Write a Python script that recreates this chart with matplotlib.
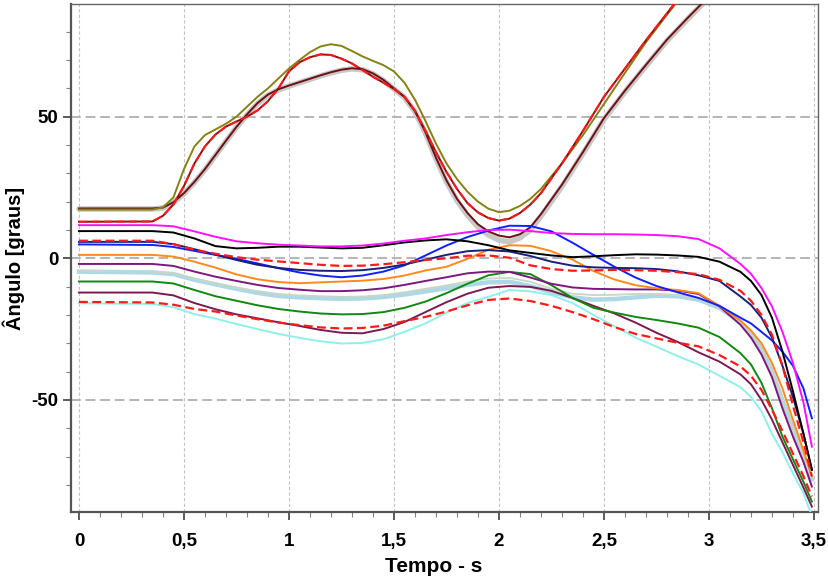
import matplotlib
matplotlib.use("Agg")
import matplotlib.pyplot as plt
from matplotlib.ticker import MultipleLocator, FuncFormatter
from matplotlib import font_manager

# ---- data -------------------------------------------------------------
t_low = [0.00, 0.35, 0.45, 0.55, 0.65, 0.75, 0.85, 0.95, 1.05, 1.15, 1.25, 1.35,
         1.45, 1.55, 1.65, 1.75, 1.85, 1.95, 2.05, 2.15, 2.25, 2.35, 2.45, 2.55,
         2.65, 2.75, 2.85, 2.95, 3.05, 3.15, 3.20, 3.25, 3.30, 3.35, 3.40, 3.45, 3.49]

magenta = [11.7, 11.7, 11.3, 9.5, 7.6, 6.0, 5.3, 4.8, 4.5, 4.2, 4.2, 4.5,
           5.2, 6.2, 7.0, 8.2, 9.2, 10.0, 10.1, 9.6, 8.9, 8.6, 8.5, 8.5,
           8.4, 8.2, 7.8, 6.8, 3.5, -2.0, -5.5, -10.5, -17.0, -26.0, -37.0, -51.0, -66.5]
black = [9.6, 9.6, 9.1, 7.0, 4.3, 3.5, 3.7, 4.1, 4.1, 3.8, 3.5, 3.7,
         4.6, 5.6, 6.3, 6.7, 6.0, 4.6, 2.8, 1.9, 1.0, 0.4, 0.7, 1.1,
         1.4, 1.3, 1.0, 0.5, -1.2, -4.8, -8.0, -13.0, -21.0, -33.0, -47.0, -62.0, -74.7]
red_mid = [6.2, 6.2, 5.0, 3.0, 1.6, 0.4, -0.5, -1.1, -1.7, -2.3, -2.7, -2.6,
           -2.1, -1.4, -0.6, 0.0, 0.9, 1.0, 0.2, -2.5, -3.8, -4.4, -4.3, -4.1,
           -4.2, -4.4, -4.9, -5.6, -7.6, -11.5, -15.0, -20.0, -27.0, -38.0, -52.0, -65.0, -77.0]
navy = [5.8, 5.8, 5.0, 3.2, 1.3, -0.6, -2.3, -3.4, -4.1, -4.4, -4.5, -4.2,
        -3.4, -2.2, -0.5, 1.2, 2.5, 2.9, 2.4, 0.8, -1.2, -2.6, -3.2, -3.4,
        -3.5, -3.8, -4.6, -6.0, -8.0, -13.5, -16.5, -21.0, -28.0, -38.0, -49.0, -62.0, -74.7]
blue = [4.9, 4.7, 4.0, 2.6, 1.2, -0.2, -1.8, -3.5, -5.0, -6.1, -6.7, -6.1,
        -4.7, -2.5, 1.0, 4.5, 7.5, 9.8, 11.5, 11.4, 9.5, 5.5, 1.2, -3.0,
        -6.8, -9.8, -12.0, -14.0, -16.8, -21.0, -23.0, -26.0, -29.0, -33.0, -38.0, -46.0, -56.5]
orange = [1.2, 1.2, 0.6, -1.2, -3.3, -5.7, -7.4, -8.4, -8.8, -8.5, -8.2, -7.9,
          -7.3, -6.1, -4.3, -3.0, -0.2, 3.0, 4.6, 4.4, 2.5, -0.5, -4.5, -7.5,
          -9.5, -10.6, -11.2, -12.3, -16.8, -22.0, -25.5, -30.0, -37.0, -46.0, -57.0, -68.0, -77.0]
purple = [-2.0, -2.0, -2.7, -4.7, -6.5, -8.0, -9.4, -10.5, -11.1, -11.6, -11.6, -11.3,
          -10.6, -9.4, -8.0, -6.7, -5.3, -4.7, -4.8, -6.8, -9.0, -10.3, -10.8, -10.9,
          -11.0, -11.0, -11.4, -12.6, -17.0, -23.5, -28.0, -34.0, -42.0, -53.0, -63.0, -72.0, -80.6]
light_blue = [-4.7, -5.0, -5.6, -7.6, -9.2, -10.8, -12.2, -13.3, -13.8, -14.1, -14.3, -14.2,
              -13.7, -12.8, -11.7, -10.6, -9.4, -8.5, -8.3, -9.8, -12.0, -13.8, -14.6, -14.4,
              -13.8, -13.2, -13.4, -14.6, -17.5, -22.5, -26.5, -32.0, -40.0, -50.0, -60.0, -70.0, -78.0]
pale_grey = [-4.5, -4.7, -5.3, -7.2, -8.8, -10.3, -11.6, -12.6, -13.1, -13.4, -13.6, -13.5,
             -13.0, -12.0, -10.8, -9.6, -8.2, -7.2, -6.9, -8.3, -10.8, -12.5, -13.0, -12.9,
             -12.6, -12.6, -13.0, -14.3, -17.3, -22.3, -26.3, -31.8, -39.8, -49.8, -59.8, -69.8, -77.8]
green = [-8.2, -8.2, -8.9, -11.2, -13.4, -15.0, -16.6, -17.9, -18.8, -19.5, -19.8, -19.7,
         -19.0, -17.5, -15.3, -12.3, -9.0, -6.0, -4.8, -5.6, -9.5, -14.0, -17.5, -19.2,
         -20.7, -21.8, -23.0, -24.5, -27.8, -33.5, -37.5, -44.0, -53.0, -63.0, -71.0, -79.0, -85.9]
plum = [-12.1, -12.1, -13.1, -15.8, -18.0, -19.8, -21.2, -22.6, -23.9, -25.3, -26.3, -26.5,
        -25.0, -22.5, -19.0, -15.5, -12.5, -10.4, -9.8, -10.1, -11.5, -14.0, -16.8, -19.5,
        -22.7, -26.3, -29.5, -33.2, -36.5, -41.0, -44.5, -50.0, -57.0, -65.0, -73.0, -81.0, -87.7]
red_low = [-15.4, -15.6, -16.4, -17.9, -18.8, -20.2, -21.5, -22.7, -23.6, -24.4, -24.8, -24.6,
           -23.8, -22.2, -20.7, -18.8, -16.6, -14.7, -14.2, -15.1, -16.8, -19.0, -21.5, -24.3,
           -26.7, -28.3, -29.8, -31.1, -34.2, -38.2, -41.5, -46.5, -53.5, -61.0, -69.0, -77.0, -84.1]
cyan = [-15.9, -16.1, -17.3, -19.7, -21.3, -23.2, -25.0, -26.7, -28.1, -29.3, -30.1, -29.9,
        -28.6, -26.0, -23.0, -19.2, -15.8, -13.6, -11.2, -11.7, -13.0, -15.8, -20.0, -24.0,
        -28.0, -31.2, -34.5, -37.5, -41.5, -45.5, -49.0, -54.0, -62.0, -68.5, -76.0, -83.0, -91.0]

t_up = [0.00, 0.35, 0.40, 0.45, 0.50, 0.55, 0.60, 0.65, 0.70, 0.75, 0.80, 0.85,
        0.90, 0.95, 1.00, 1.05, 1.10, 1.15, 1.20, 1.25, 1.30, 1.35, 1.40, 1.45,
        1.50, 1.55, 1.60, 1.65, 1.70, 1.75, 1.80, 1.85, 1.90, 1.95, 2.00, 2.05,
        2.10, 2.15, 2.20, 2.30, 2.40, 2.50, 2.60, 2.70, 2.80, 2.90, 3.00]

olive = [17.2, 17.2, 18.0, 21.5, 31.5, 39.5, 43.5, 45.5, 47.5, 50.0, 53.5, 57.0,
         60.0, 63.5, 67.0, 70.0, 72.8, 74.8, 75.6, 75.0, 73.2, 71.3, 69.7, 68.2,
         66.0, 62.0, 56.0, 48.5, 40.5, 33.5, 28.0, 23.5, 20.0, 17.5, 16.3, 16.8,
         18.5, 21.0, 24.5, 33.5, 43.5, 54.5, 65.5, 76.3, 86.0, 95.5, 105.0]
red_up = [12.9, 13.0, 15.0, 19.0, 25.5, 33.5, 39.5, 43.7, 46.5, 48.3, 50.0, 52.2,
          55.5, 60.0, 66.0, 69.2, 71.0, 72.0, 71.8, 70.5, 68.8, 66.5, 64.1, 62.0,
          59.8, 57.0, 52.0, 45.0, 37.5, 30.5, 24.5, 19.5, 16.2, 14.2, 13.3, 14.0,
          16.0, 19.0, 23.0, 33.5, 45.0, 57.0, 67.0, 77.0, 86.5, 96.0, 105.0]
maroon = [17.6, 17.6, 17.9, 19.8, 23.0, 27.0, 31.5, 36.5, 41.5, 46.4, 50.8, 54.8,
          57.8, 59.7, 61.0, 62.2, 63.4, 64.6, 65.7, 66.6, 67.1, 66.8, 65.3, 63.0,
          60.0, 57.0, 52.0, 44.5, 35.5, 27.5, 21.0, 16.0, 12.0, 9.5, 8.0, 7.4,
          8.5, 11.0, 15.6, 26.0, 37.5, 49.5, 59.2, 68.3, 77.2, 85.0, 92.5]
maroon_band = [17.4, 17.4, 17.7, 19.6, 22.8, 26.8, 31.3, 36.3, 41.3, 46.2, 50.6, 54.6,
               57.6, 59.5, 60.8, 62.0, 63.2, 64.4, 65.5, 66.4, 66.9, 66.6, 65.1, 62.8,
               59.8, 56.8, 51.8, 44.2, 35.1, 27.0, 20.4, 15.2, 11.0, 8.2, 6.4, 5.8,
               7.2, 10.0, 14.8, 25.4, 37.0, 49.0, 58.8, 67.9, 76.8, 84.6, 92.1]

x_ticks = [0, 0.5, 1, 1.5, 2, 2.5, 3, 3.5]
y_ticks = [-50, 0, 50]

# ---- fonts ------------------------------------------------------------
available = {f.name for f in font_manager.fontManager.ttflist}
narrow = "Liberation Sans Narrow" if "Liberation Sans Narrow" in available else "Liberation Sans"
plt.rcParams["font.family"] = [narrow, "DejaVu Sans"]
plt.rcParams["axes.unicode_minus"] = False

# ---- figure -----------------------------------------------------------
fig = plt.figure(figsize=(8.29, 5.79), dpi=100)
ax = fig.add_axes([0.0856, 0.1157, 0.9011, 0.8774])

lw = 1.4
# upper group
ax.plot(t_up, maroon_band, color="#c8c8c8", lw=4.0, solid_capstyle="round", zorder=2)
ax.plot(t_up, maroon, color="#6e0f14", lw=lw, zorder=3)
ax.plot(t_up, olive, color="#848214", lw=lw, zorder=3)
ax.plot(t_up, red_up, color="#8a1010", lw=lw, zorder=3)
ax.plot(t_up, red_up, color="#ff1a1a", lw=1.5, dashes=(4, 2), zorder=4)

# lower group
ax.plot(t_low, light_blue, color="#add8e6", lw=3.2, zorder=2)
ax.plot(t_low, pale_grey, color="#c8d6c8", lw=1.3, zorder=2)
ax.plot(t_low, cyan, color="#8ff0ea", lw=lw, zorder=3)
ax.plot(t_low, plum, color="#7a1a50", lw=lw, zorder=3)
ax.plot(t_low, green, color="#118811", lw=lw, zorder=3)
ax.plot(t_low, purple, color="#80167f", lw=lw, zorder=3)
ax.plot(t_low, orange, color="#ff8a1c", lw=lw, zorder=3)
ax.plot(t_low, blue, color="#1020ff", lw=lw, zorder=3)
ax.plot(t_low, navy, color="#1a1f7a", lw=lw, zorder=3)
ax.plot(t_low, black, color="#000000", lw=lw, zorder=3)
ax.plot(t_low, magenta, color="#ff10ff", lw=lw, zorder=3)
ax.plot(t_low, red_mid, color="#ff1a1a", lw=1.6, dashes=(4, 2), zorder=4)
ax.plot(t_low, red_low, color="#ff1a1a", lw=1.6, dashes=(4, 2), zorder=4)

# ---- axes styling -----------------------------------------------------
ax.set_xlim(-0.038, 3.519)
ax.set_ylim(-89.6, 89.8)

ax.set_xticks(x_ticks)
ax.set_yticks(y_ticks)
ax.xaxis.set_minor_locator(MultipleLocator(0.1))
ax.yaxis.set_minor_locator(MultipleLocator(10))


def comma(v, pos):
    s = f"{v:g}"
    return s.replace(".", ",")


ax.xaxis.set_major_formatter(FuncFormatter(comma))
ax.yaxis.set_major_formatter(FuncFormatter(comma))

ax.tick_params(axis="both", which="major", direction="out", length=6, width=1.2,
               color="#404040", labelsize=13.5)
ax.tick_params(axis="x", which="major", pad=9)
ax.tick_params(axis="y", which="major", pad=3)
ax.tick_params(axis="both", which="minor", direction="out", length=3.5, width=0.8,
               color="#808080")
for lab in ax.get_xticklabels() + ax.get_yticklabels():
    lab.set_fontweight("bold")

ax.grid(False)
for x in x_ticks:
    ax.axvline(x, color="#c4c4c4", lw=0.8, dashes=(3, 2), zorder=1)
for y in y_ticks:
    ax.axhline(y, color="#b4b4b4", lw=1.4, dashes=(5, 2.5), zorder=1)

for side in ("left", "bottom"):
    ax.spines[side].set_color("#555555")
    ax.spines[side].set_linewidth(1.6)
for side in ("top", "right"):
    ax.spines[side].set_color("#666666")
    ax.spines[side].set_linewidth(1.0)

ax.set_xlabel("Tempo - s", fontsize=15, fontweight="bold")
ax.set_ylabel("Ângulo [graus]", fontsize=14.5, fontweight="bold")
ax.yaxis.set_label_coords(-0.062, 0.5)
ax.xaxis.set_label_coords(0.485, -0.088)

fig.savefig("out.png", dpi=100, facecolor="white")
